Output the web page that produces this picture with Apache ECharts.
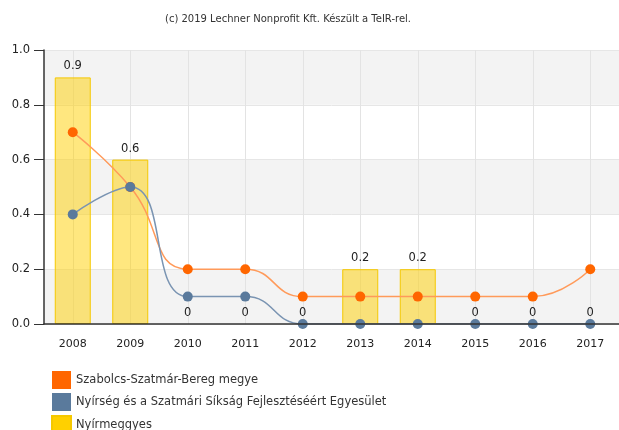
<!DOCTYPE html>
<html><head><meta charset="utf-8">
<script src="https://cdn.jsdelivr.net/npm/echarts@6/dist/echarts.min.js"></script>
<style>html,body{margin:0;padding:0;background:#fff}#c{width:619px;height:430px}</style>
</head><body><div id="c"></div>
<script>
const categories = ['2008','2009','2010','2011','2012','2013','2014','2015','2016','2017'];
const seriesNames = ['Szabolcs-Szatmár-Bereg megye','Nyírség és a Szatmári Síkság Fejlesztéséért Egyesület','Nyírmeggyes'];
const megye = [0.7,0.5,0.2,0.2,0.1,0.1,0.1,0.1,0.1,0.2];
const egyesulet = [0.4,0.5,0.1,0.1,0,0,0,0,0,0];
const nyirmeggyes = [0.9,0.6,0,0,0,0.2,0.2,0,0,0];
const yTicks = [0,0.2,0.4,0.6,0.8,1.0];
const titleText = '(c) 2019 Lechner Nonprofit Kft. Készült a TeIR-rel.';

const FONT = 'DejaVu Sans';
const halfSlots = categories.flatMap(c => [c + 'a', c + 'b']);
const chart = echarts.init(document.getElementById('c'));
chart.setOption({
  animation:false,
  backgroundColor:'#fff',
  title:{text:titleText,left:160,top:9,textStyle:{fontFamily:FONT,fontSize:10,fontWeight:'normal',color:'#333'}},
  grid:{left:44,top:50,bottom:106,width:581},
  legend:{orient:'vertical',left:51,top:371,height:70,padding:0,itemWidth:19,itemHeight:18,itemGap:4,icon:'rect',
    textStyle:{fontFamily:FONT,fontSize:11.5,color:'#333'},
    data:[{name:seriesNames[0],itemStyle:{color:'#ff6600'}},{name:seriesNames[1],itemStyle:{color:'#5a7a9c'}},{name:seriesNames[2],itemStyle:{color:'#ffd000'}}]},
  xAxis:[{type:'category',data:categories,z:5,
    axisLine:{lineStyle:{color:'#333',width:1.5}},
    axisTick:{alignWithLabel:true,length:6,lineStyle:{color:'#333'}},
    axisLabel:{fontFamily:FONT,fontSize:11,color:'#222',margin:15},
    splitLine:{show:false}},
   {type:'category',data:halfSlots,position:'bottom',
    axisLine:{show:false},axisTick:{show:false},axisLabel:{show:false},
    splitLine:{show:true,interval:(i)=>i%2===1,lineStyle:{color:'#e3e3e3'}}}],
  yAxis:{type:'value',min:0,max:1,interval:0.2,
    axisLine:{show:true,lineStyle:{color:'#333',width:1.5}},
    axisTick:{show:true,length:10,lineStyle:{color:'#333'}},
    axisLabel:{fontFamily:FONT,fontSize:11.5,color:'#222',margin:14,formatter:v=>yTicks.includes(+v.toFixed(1))?v.toFixed(1):''},
    splitLine:{show:true,lineStyle:{color:'#e6e6e6'}},
    splitArea:{show:true,areaStyle:{color:['#f3f3f3','#ffffff']}}},
  series:[
    {name:seriesNames[2],type:'bar',xAxisIndex:0,barWidth:36,z:1,
      data:nyirmeggyes.map(v => v === 0 ? {value:v,itemStyle:{borderWidth:0}} : v),
      itemStyle:{color:'rgba(255,208,0,0.5)',borderColor:'#f5c800',borderWidth:1},
      label:{show:true,position:'top',distance:5,fontFamily:FONT,fontSize:11.5,color:'#222',formatter:p=>String(p.value)}},
    {name:seriesNames[0],type:'line',xAxisIndex:0,data:megye,smooth:0.5,symbol:'circle',symbolSize:10,z:3,
      itemStyle:{color:'#ff6600'},lineStyle:{color:'#ff9a5a',width:1.5}},
    {name:seriesNames[1],type:'line',xAxisIndex:0,data:egyesulet,smooth:0.5,symbol:'circle',symbolSize:10,z:4,
      itemStyle:{color:'#5a7a9c'},lineStyle:{color:'#7a94b2',width:1.5}}
  ]
});
</script></body></html>
